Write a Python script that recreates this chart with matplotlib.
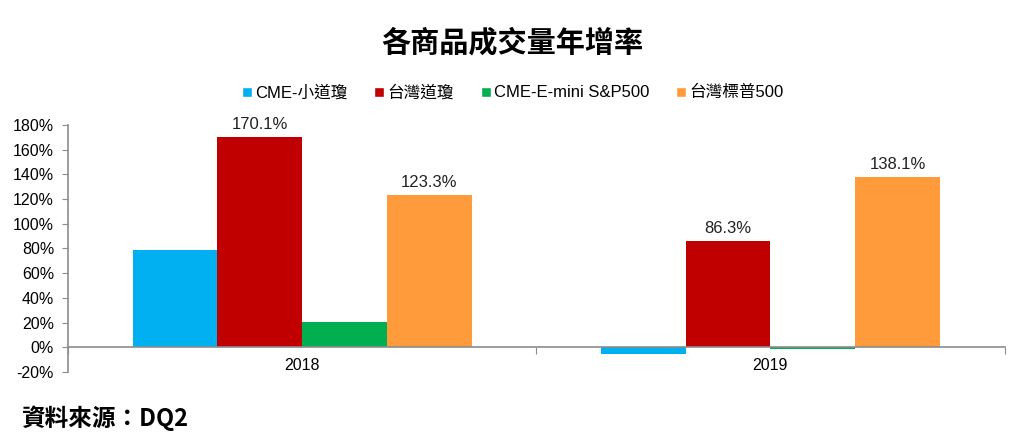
import numpy as np
import matplotlib.pyplot as plt
from matplotlib.lines import Line2D

plt.rcParams['font.family'] = ['Liberation Sans', 'Noto Sans CJK TC', 'DejaVu Sans']

years = ["2018", "2019"]
series = ["CME-小道瓊", "台灣道瓊", "CME-E-mini S&P500", "台灣標普500"]
values = [
    [79.0, -5.6],
    [170.1, 86.3],
    [20.2, -1.0],
    [123.3, 138.1],
]
labels = [
    [None, None],
    ["170.1%", "86.3%"],
    [None, None],
    ["123.3%", "138.1%"],
]
colors = ["#00B0F0", "#C00000", "#00B050", "#FF9B3B"]

fig = plt.figure(figsize=(10.24, 4.47), dpi=100)
ax = fig.add_axes([0.0664, 0.1678, 0.9146, 0.5526])

x = np.arange(len(years))
width = 0.181
for i, (name, vals) in enumerate(zip(series, values)):
    pos = x + (i - 1.5) * width
    ax.bar(pos, vals, width, color=colors[i], label=name)
    for p, v, lab in zip(pos, vals, labels[i]):
        if lab:
            ax.text(p, v + 4, lab, ha='center', va='bottom', fontsize=12, color='#222222')

ax.set_xlim(-0.5, 1.5)
ax.set_ylim(-20, 180)
ax.set_yticks(np.arange(-20, 181, 20))
ax.set_yticklabels([f"{v}%" for v in range(-20, 181, 20)], fontsize=11.5)

ax.spines['top'].set_visible(False)
ax.spines['right'].set_visible(False)
ax.spines['bottom'].set_position(('data', 0))
for s in ['left', 'bottom']:
    ax.spines[s].set_color('#8c8c8c')
    ax.spines[s].set_linewidth(1.2)

ax.set_xticks([-0.5, 0.5, 1.5])
ax.set_xticklabels([])
ax.set_xticks(x, minor=True)
ax.set_xticklabels(years, minor=True, fontsize=11.5)
ax.tick_params(axis='x', which='major', length=5, color='#8c8c8c', direction='out')
ax.tick_params(axis='x', which='minor', length=0, pad=8)
ax.tick_params(axis='y', length=4, color='#8c8c8c', direction='out', pad=6)

handles = [Line2D([0], [0], marker='s', color='w', markerfacecolor=c,
                  markersize=7.5, linestyle='None') for c in colors]
fig.legend(handles, series, loc='center', bbox_to_anchor=(0.5, 0.793), ncol=4,
           frameon=False, fontsize=12, handletextpad=0.1, columnspacing=1.5,
           handlelength=0.8)

fig.text(0.5, 0.905, "各商品成交量年增率", ha='center', va='center',
         fontsize=21, fontweight='bold', family=['Noto Sans CJK TC'])
fig.text(0.021, 0.064, "資料來源：DQ2", ha='left', va='center',
         fontsize=17, fontweight='bold', family=['Noto Sans CJK TC'])

fig.savefig("out.png", dpi=100)
